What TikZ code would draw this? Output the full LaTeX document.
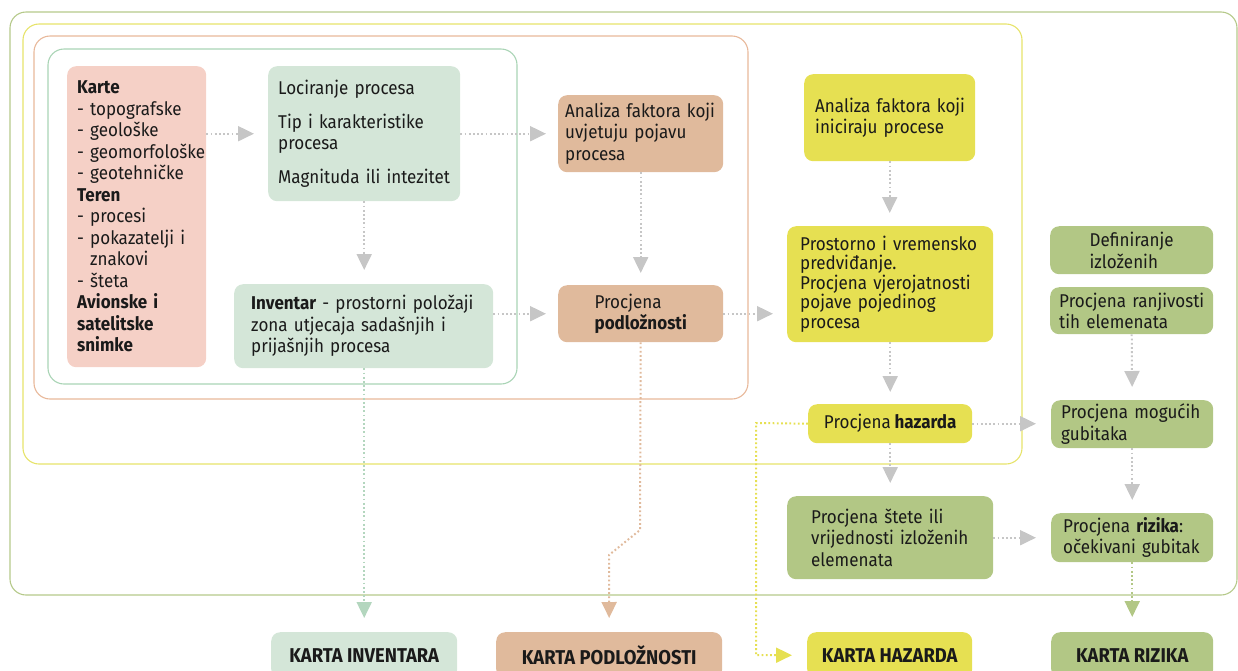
\documentclass[tikz,border=0pt]{standalone}
\usepackage{fontspec}
\setmainfont{Fira Sans}[FakeStretch=0.92, WordSpace=0.8]
\newfontfamily\headfont{Fira Sans}[FakeStretch=0.92]
\usetikzlibrary{arrows.meta}
\hyphenpenalty=10000
\exhyphenpenalty=10000
\definecolor{txt}{HTML}{1A1A1A}
\definecolor{cpink}{HTML}{F5D0C6}
\definecolor{clgreen}{HTML}{D4E6D8}
\definecolor{ctan}{HTML}{E0BA9C}
\definecolor{cyellow}{HTML}{E6E052}
\definecolor{colive}{HTML}{B2C785}
\definecolor{fouter}{HTML}{B5C98A}
\definecolor{fyellow}{HTML}{E6E36A}
\definecolor{fsalmon}{HTML}{E8B89A}
\definecolor{fgreen}{HTML}{A9D4B5}
\definecolor{agray}{HTML}{C6C6C6}
\definecolor{agreen}{HTML}{B3D6BE}
\newcommand\boxfont{\fontsize{18.5}{21.5}\selectfont\hyphenpenalty=10000 }
\newcommand\tightfont{\fontsize{18.5}{19.5}\selectfont\hyphenpenalty=10000 }
\newcommand\karfont{\headfont\bfseries\fontsize{20}{22}\selectfont}
\tikzset{
  frame/.style={line width=1.1pt, rounded corners=16pt},
  box/.style={rounded corners=9pt, inner sep=0pt, anchor=north west, font=\boxfont, text=txt, align=left},
  kbox/.style={rounded corners=9pt, inner sep=0pt, anchor=north west, font=\karfont, text=txt, align=center, minimum height=46pt},
  flow/.style={draw=agray, line width=2pt, dash pattern=on 1.8pt off 2.4pt,
     -{Triangle[length=16pt,width=15pt,fill=agray]}, shorten >=13pt},
}
\begin{document}
\begin{tikzpicture}[x=1pt,y=-1pt]
\useasboundingbox (0,0) rectangle (1238,670);
% frames
\draw[frame, draw=fouter] (10,12) rectangle (1237,595);
\draw[frame, draw=fyellow] (23,24) rectangle (1022,464);
\draw[frame, draw=fsalmon] (34,36) rectangle (748,399);
\draw[frame, draw=fgreen] (48,49) rectangle (517,384);
% boxes
\node[box, fill=cpink, minimum width=139pt, minimum height=301pt, text width=119pt] (karte) at (67,66)
 {\textbf{Karte}\\-~topografske\\-~geološke\\-~geomorfološke\\-~geotehničke\\\textbf{Teren}\\-~procesi\\-~pokazatelji~i\\\hphantom{- }znakovi\\-~šteta\\\textbf{Avionske~i}\\\textbf{satelitske}\\\textbf{snimke}};
\node[box, fill=clgreen, minimum width=192pt, minimum height=135pt, text width=172pt] (lok) at (268,66)
 {Lociranje~procesa\\[12pt]Tip~i~karakteristike\\procesa\\[12pt]Magnituda~ili~intezitet};
\node[box, fill=clgreen, minimum width=259pt, minimum height=84pt, text width=225pt] (inv) at (234,284)
 {\textbf{Inventar}~-~prostorni~položaji\\zona~utjecaja~sadašnjih~i\\prijašnjih~procesa};
\node[box, fill=ctan, minimum width=165pt, minimum height=77pt, text width=151pt] (anal) at (558,95)
 {Analiza~faktora~koji\\uvjetuju~pojavu\\procesa};
\node[box, fill=ctan, minimum width=165pt, minimum height=57pt] (podl) at (558,285)
 {Procjena\\\textbf{podložnosti}};
\node[box, fill=cyellow, minimum width=171pt, minimum height=87pt, text width=149pt] (ini) at (804,74)
 {Analiza~faktora~koji\\iniciraju~procese};
\node[box, fill=cyellow, minimum width=206pt, minimum height=116pt, text width=180pt, font=\tightfont] (prost) at (787,226)
 {Prostorno~i~vremensko\\predviđanje.\\Procjena~vjerojatnosti\\pojave~pojedinog\\procesa};
\node[box, fill=colive, minimum width=163pt, minimum height=48pt] (def) at (1050,226)
 {Definiranje\\izloženih};
\node[box, fill=colive, minimum width=163pt, minimum height=47pt, text width=145pt] (ranj) at (1050,287)
 {Procjena~ranjivosti\\tih~elemenata};
\node[box, fill=cyellow, minimum width=164pt, minimum height=39pt] (haz) at (808,404)
 {Procjena \textbf{hazarda}};
\node[box, fill=colive, minimum width=162pt, minimum height=48pt, text width=142pt] (mog) at (1051,400)
 {Procjena~mogućih\\gubitaka};
\node[box, fill=colive, minimum width=206pt, minimum height=83pt, text width=158pt] (stete) at (787,496)
 {Procjena~štete~ili\\vrijednosti~izloženih\\elemenata};
\node[box, fill=colive, minimum width=162pt, minimum height=49pt, text width=138pt] (riz) at (1051,513)
 {Procjena~\textbf{rizika}:\\očekivani~gubitak};
% map boxes
\node[kbox, fill=clgreen, minimum width=186pt] (kinv) at (271,632) {KARTA INVENTARA};
\node[kbox, fill=ctan, minimum width=226pt] (kpodl) at (496,632) {KARTA PODLOŽNOSTI};
\node[kbox, fill=cyellow, minimum width=165pt] (khaz) at (807,632) {KARTA HAZARDA};
\node[kbox, fill=colive, minimum width=162pt] (kriz) at (1051,632) {KARTA RIZIKA};
% connectors
\draw[flow, shorten >=14pt] (karte.east |- lok.west) -- (lok.west);
\draw[flow, shorten >=12pt] (lok.east) -- (anal.west);
\draw[flow, shorten >=14pt] (lok.south) -- (inv.north -| lok.south);
\draw[flow, shorten >=12pt] (inv.east |- podl.west) -- (podl.west);
\draw[flow, shorten >=12pt] (anal.south) -- (podl.north);
\draw[flow, shorten >=14pt] (podl.east) -- (prost.west |- podl.east);
\draw[flow, shorten >=13pt] (ini.south) -- (prost.north -| ini.south);
\draw[flow, shorten >=12pt] (prost.south) -- (haz.north);
\draw[flow, shorten >=15pt] (haz.east) -- (mog.west |- haz.east);
\draw[flow, shorten >=13pt] (haz.south) -- (stete.north);
\draw[flow, shorten >=15pt] (stete.east) -- (riz.west);
\draw[flow, shorten >=13pt] (ranj.south) -- (mog.north);
\draw[flow, shorten >=13pt] (mog.south) -- (riz.north);
\draw[flow, draw=agreen, -{Triangle[length=16pt,width=15pt,fill=agreen]}, shorten >=14pt] (inv.south -| kinv.north) -- (kinv.north);
\coordinate (p1) at (640,530);
\coordinate (p2) at (609,555);
\draw[flow, draw=ctan, -{Triangle[length=16pt,width=15pt,fill=ctan]}, shorten >=14pt] (podl.south) -- (p1) -- (p2) -- (kpodl.north);
\coordinate (h1) at (756,423);
\draw[flow, draw=cyellow, -{Triangle[length=16pt,width=15pt,fill=cyellow]}, shorten >=15pt] (haz.west) -- (h1) |- (khaz.west);
\draw[flow, draw=colive, -{Triangle[length=16pt,width=15pt,fill=colive]}, shorten >=15pt] (riz.south) -- (kriz.north);
\end{tikzpicture}
\end{document}
